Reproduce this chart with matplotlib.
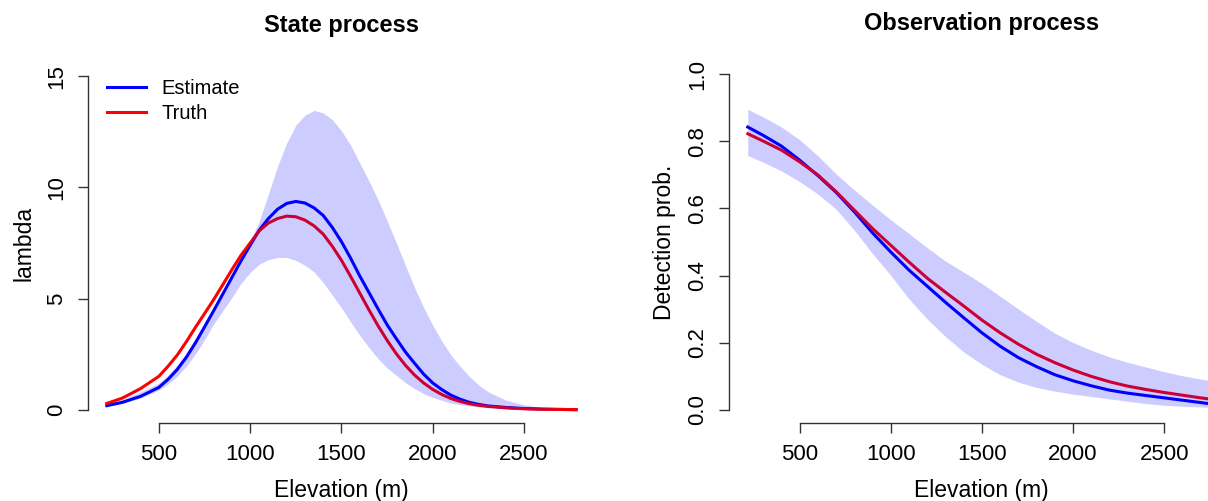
import matplotlib
matplotlib.use("Agg")
import matplotlib.pyplot as plt

plt.rcParams["font.family"] = ["Liberation Sans", "DejaVu Sans"]

# left panel: abundance (lambda) along elevation (m)
elev_state = [215, 300, 400, 500, 550, 600, 650, 700, 750, 800, 850, 900, 950, 1000,
              1050, 1100, 1150, 1200, 1250, 1300, 1350, 1400, 1450, 1500, 1550, 1600,
              1650, 1700, 1750, 1800, 1850, 1900, 1950, 2000, 2050, 2100, 2150, 2200,
              2250, 2300, 2400, 2500, 2600, 2700, 2785]
lam_est = [0.18, 0.33, 0.6, 1.0, 1.36, 1.8, 2.35, 3.0, 3.72, 4.45, 5.2, 5.95, 6.7, 7.4,
           8.08, 8.6, 9.02, 9.28, 9.37, 9.3, 9.08, 8.74, 8.2, 7.56, 6.82, 6.02,
           5.28, 4.54, 3.82, 3.2, 2.6, 2.09, 1.6, 1.2, 0.9, 0.65, 0.47, 0.33,
           0.24, 0.17, 0.1, 0.05, 0.025, 0.01, 0.0]
lam_true = [0.28, 0.52, 0.95, 1.5, 1.95, 2.45, 3.05, 3.7, 4.32, 4.95, 5.62, 6.3, 6.95, 7.5,
            8.05, 8.4, 8.6, 8.71, 8.68, 8.53, 8.27, 7.9, 7.35, 6.72, 6.0, 5.25,
            4.5, 3.78, 3.12, 2.52, 2.0, 1.56, 1.2, 0.91, 0.68, 0.5, 0.37, 0.27,
            0.2, 0.15, 0.08, 0.04, 0.02, 0.01, 0.0]
lam_lo = [0.15, 0.28, 0.52, 0.88, 1.15, 1.5, 1.95, 2.5, 3.15, 3.85, 4.45, 5.05, 5.68, 6.18,
          6.55, 6.75, 6.85, 6.85, 6.72, 6.5, 6.2, 5.72, 5.15, 4.58, 3.95, 3.35,
          2.8, 2.3, 1.88, 1.55, 1.22, 0.95, 0.72, 0.55, 0.42, 0.3, 0.22, 0.17,
          0.12, 0.09, 0.05, 0.03, 0.01, 0.0, 0.0]
lam_hi = [0.25, 0.45, 0.8, 1.2, 1.55, 2.0, 2.55, 3.2, 3.9, 4.6, 5.3, 6.0, 6.75, 7.55,
          8.5, 9.7, 10.95, 12.0, 12.8, 13.25, 13.47, 13.35, 13.05, 12.55, 11.9, 11.1,
          10.3, 9.45, 8.5, 7.52, 6.5, 5.5, 4.6, 3.8, 3.08, 2.45, 1.95, 1.5,
          1.12, 0.82, 0.43, 0.22, 0.1, 0.05, 0.03]

# right panel: detection probability along elevation (m)
elev_obs = [215, 300, 400, 500, 600, 700, 800, 900, 1000, 1100, 1200, 1300, 1400, 1500,
            1600, 1700, 1800, 1900, 2000, 2100, 2200, 2300, 2400, 2500, 2600, 2700, 2785]
p_est = [0.843, 0.818, 0.786, 0.744, 0.698, 0.648, 0.59, 0.527, 0.47, 0.416, 0.368, 0.32,
         0.274, 0.229, 0.189, 0.155, 0.128, 0.104, 0.086, 0.071, 0.058, 0.049, 0.042,
         0.035, 0.028, 0.021, 0.015]
p_true = [0.823, 0.801, 0.774, 0.739, 0.7, 0.65, 0.595, 0.54, 0.49, 0.44, 0.392, 0.35,
          0.309, 0.267, 0.229, 0.195, 0.165, 0.14, 0.118, 0.099, 0.083, 0.07, 0.06,
          0.051, 0.043, 0.035, 0.029]
p_lo = [0.758, 0.738, 0.712, 0.68, 0.643, 0.598, 0.535, 0.465, 0.4, 0.33, 0.27, 0.218,
        0.172, 0.135, 0.104, 0.082, 0.066, 0.055, 0.046, 0.039, 0.032, 0.025, 0.018,
        0.013, 0.01, 0.008, 0.006]
p_hi = [0.896, 0.873, 0.843, 0.805, 0.757, 0.703, 0.655, 0.61, 0.566, 0.525, 0.483, 0.443,
        0.41, 0.376, 0.338, 0.3, 0.263, 0.228, 0.2, 0.177, 0.157, 0.141, 0.127,
        0.113, 0.101, 0.091, 0.083]

x_ticks = [500, 1000, 1500, 2000, 2500]

fig = plt.figure(figsize=(12.08, 5.01), dpi=100)
ax1 = fig.add_axes([88 / 1208, 78 / 501, 506 / 1208, 360 / 501])
ax2 = fig.add_axes([729 / 1208, 78 / 501, 505 / 1208, 362 / 501])


def r_style(ax, yticks, ylabels):
    # base-R look: only bottom/left axis lines, spanning the ticks
    for s in ["top", "right"]:
        ax.spines[s].set_visible(False)
    for s in ["left", "bottom"]:
        ax.spines[s].set_color("#333333")
        ax.spines[s].set_linewidth(1)
    ax.spines["bottom"].set_bounds(x_ticks[0], x_ticks[-1])
    ax.spines["left"].set_bounds(yticks[0], yticks[-1])
    ax.set_xticks(x_ticks)
    ax.set_yticks(yticks)
    ax.set_yticklabels(ylabels, rotation=90, va="center")
    ax.tick_params(length=7, width=1, color="#333333", labelsize=16, pad=8)
    ax.set_xlabel("Elevation (m)", fontsize=16.5, labelpad=10)


ax1.plot(elev_state, lam_est, color="blue", lw=2.2, label="Estimate")
ax1.plot(elev_state, lam_true, color="red", lw=2.2, label="Truth")
ax1.fill_between(elev_state, lam_lo, lam_hi, color="blue", alpha=0.2, lw=0, zorder=3)
ax1.set_xlim(112, 2883)
ax1.set_ylim(-0.6, 15.6)
r_style(ax1, [0, 5, 10, 15], ["0", "5", "10", "15"])
ax1.set_ylabel("lambda", fontsize=16.5, labelpad=8)
ax1.set_title("State process", fontsize=17, fontweight="bold", pad=22)
ax1.legend(loc="upper left", bbox_to_anchor=(0.0375, 0.955), frameon=False, fontsize=14.5,
           handlelength=1.95, handletextpad=0.75, labelspacing=0.3, borderpad=0,
           borderaxespad=0)

ax2.plot(elev_obs, p_est, color="blue", lw=2.2)
ax2.plot(elev_obs, p_true, color="red", lw=2.2)
ax2.fill_between(elev_obs, p_lo, p_hi, color="blue", alpha=0.2, lw=0, zorder=3)
ax2.set_xlim(112, 2883)
ax2.set_ylim(-0.04, 1.04)
r_style(ax2, [0, 0.2, 0.4, 0.6, 0.8, 1.0], ["0.0", "0.2", "0.4", "0.6", "0.8", "1.0"])
ax2.set_ylabel("Detection prob.", fontsize=16.5, labelpad=8)
ax2.set_title("Observation process", fontsize=17, fontweight="bold", pad=22)

fig.savefig("out.png", dpi=100)
